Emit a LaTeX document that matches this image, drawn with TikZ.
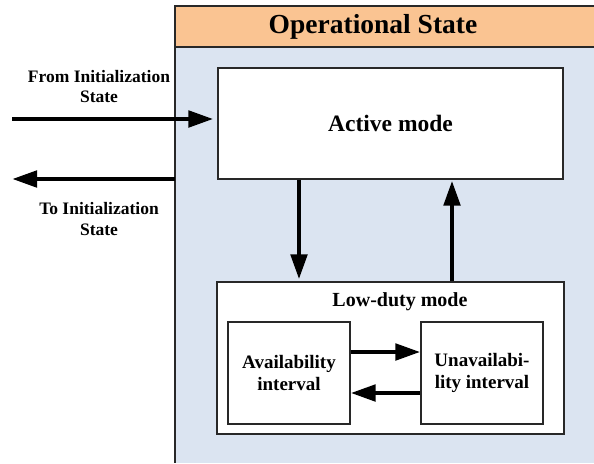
\documentclass[tikz,border=0pt]{standalone}
\usepackage{fontspec}
\setmainfont{Liberation Serif}
\usetikzlibrary{arrows.meta}
\definecolor{hdr}{RGB}{250,196,146}
\definecolor{bodyc}{RGB}{219,228,241}
\definecolor{edge}{RGB}{40,40,40}
\begin{document}
\begin{tikzpicture}[x=1pt,y=-1pt,
  box/.style={draw=edge, line width=1.1pt, fill=white, inner sep=0pt, align=center},
  bigarrow/.style={line width=4.8pt, -{Triangle[length=25pt,width=16pt]}},
  lbl/.style={align=center, font=\bfseries\fontsize{17.5}{20.5}\selectfont},
  innertxt/.style={font=\bfseries\fontsize{19}{22}\selectfont}]
\useasboundingbox (0,0) rectangle (594,463);
% operational state frame
\fill[bodyc] (175,6) rectangle (594,463);
\fill[hdr] (175,6) rectangle (594,47);
\draw[edge, line width=1.1pt] (594,6) -- (175,6) -- (175,463);
\draw[edge, line width=1.1pt] (175,47) -- (594,47);
\node[font=\bfseries\fontsize{27.5}{31}\selectfont] (title) at (373,27) {Operational State};
% boxes
\node[box, minimum width=345pt, minimum height=111pt, font=\bfseries\fontsize{23.5}{27}\selectfont] (active) at (390.5,123.5) {Active mode};
\node[box, minimum width=347pt, minimum height=152pt] (low) at (390.5,358) {};
\node[font=\bfseries\fontsize{20}{23}\selectfont] (lowlbl) at (400,302) {Low-duty mode};
\node[box, minimum width=122pt, minimum height=102pt, innertxt] (avail) at (289,373) {Availability\\interval};
\node[box, minimum width=122pt, minimum height=102pt, innertxt] (unavail) at (482,373) {Unavailabi-\\lity interval};
% side labels
\node[lbl] (fromlbl) at (99,86.5) {From Initialization\\State};
\node[lbl] (tolbl) at (99,219) {To Initialization\\State};
% helper coordinates
\coordinate (fromstart) at (12,119);
\coordinate (toend) at (12,179);
\coordinate (framept) at (175,179);
\coordinate (downx) at (299,0);
\coordinate (upx) at (452,0);
\coordinate (righty) at (0,352);
\coordinate (lefty) at (0,393);
% arrows
\draw[bigarrow, shorten >=4pt] (fromstart) -- (fromstart -| active.west);
\draw[bigarrow] (framept) -- (toend);
\draw[bigarrow, shorten >=2pt] (downx |- active.south) -- (downx |- low.north);
\draw[bigarrow, shorten >=1pt] (upx |- low.north) -- (upx |- active.south);
\draw[bigarrow] (avail.east |- righty) -- (unavail.west |- righty);
\draw[bigarrow] (unavail.west |- lefty) -- (avail.east |- lefty);
\end{tikzpicture}
\end{document}
